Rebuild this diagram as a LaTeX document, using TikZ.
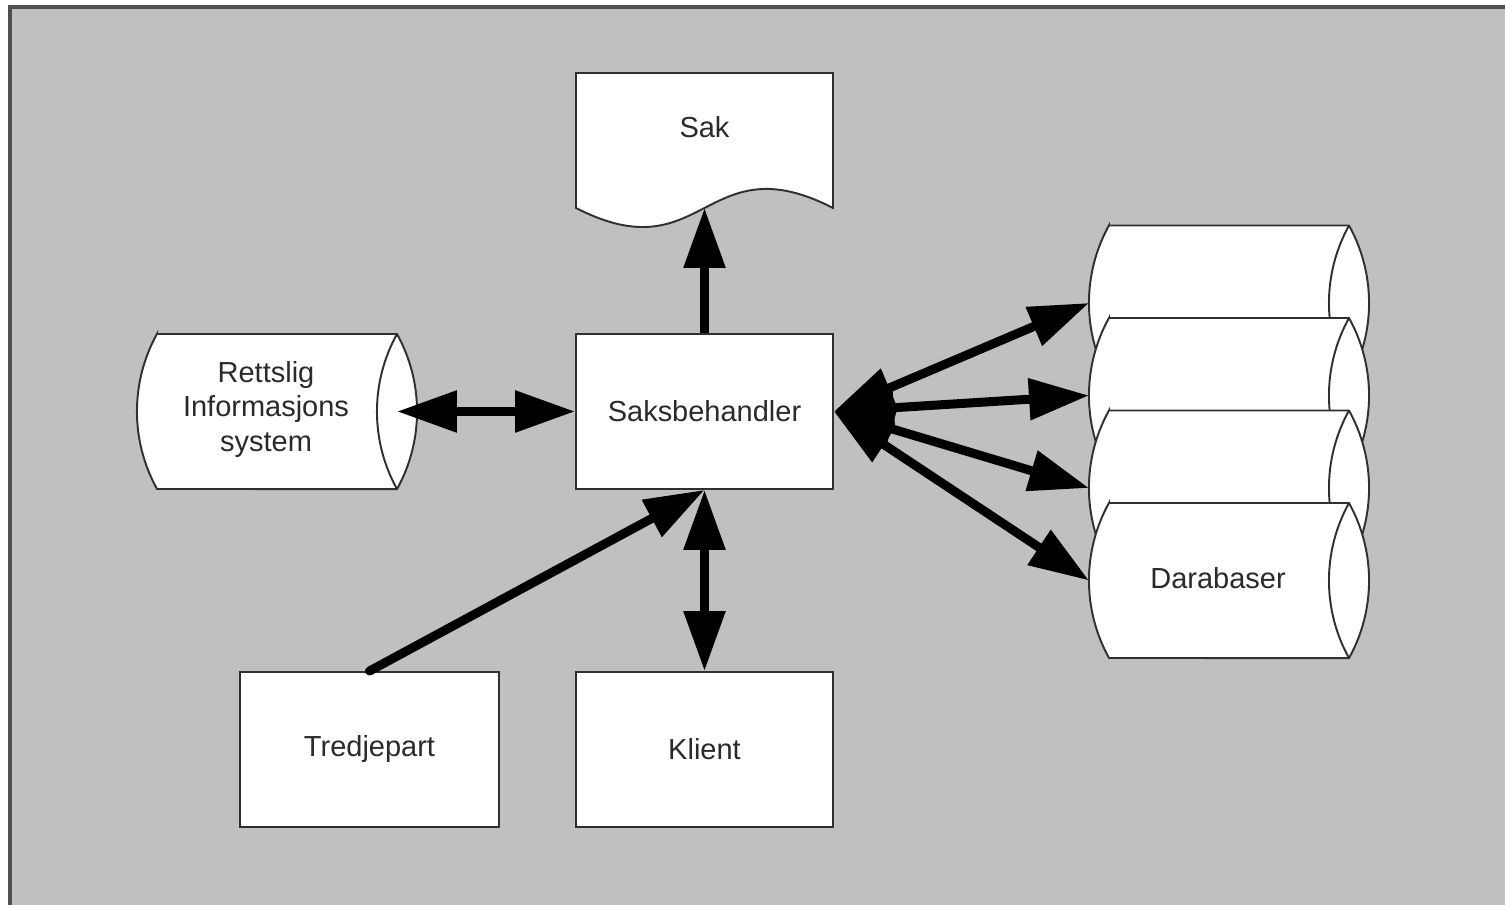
\documentclass[tikz,border=0pt]{standalone}
\usepackage{fontspec}
\setmainfont{Liberation Sans}
\usepackage{tikz}
\usetikzlibrary{arrows.meta}

\definecolor{bakgrunn}{HTML}{C0C0C0}
\definecolor{ramme}{HTML}{505050}
\definecolor{kant}{HTML}{303030}
\definecolor{skrift}{HTML}{2A2A2A}

\tikzset{
  boks/.style={draw=kant, line width=1.1pt, fill=white},
  tekst/.style={text=skrift, font=\fontsize{16.5}{19.9}\selectfont, align=center},
  pil/.style={line width=0.18cm, -{Triangle[length=1.2cm,width=0.8cm]}},
  dobbelpil/.style={line width=0.18cm, {Triangle[length=1.2cm,width=0.8cm]}-{Triangle[length=1.2cm,width=0.8cm]}}
}

% sylinder: navn, venstre x, midt y, tekst
\newcommand{\sylinder}[4]{%
  \filldraw[boks] (#2,#3+77.5) -- (#2+240,#3+77.5)
    arc[start angle=29, end angle=-29, radius=3.2cm]
    -- (#2,#3-77.5)
    arc[start angle=209, end angle=151, radius=3.2cm] -- cycle;
  \draw[boks, fill=none] (#2+240,#3+77.5) arc[start angle=151, end angle=209, radius=3.2cm];
  \node[tekst] (#1) at (#2+109,#3+2) {#4};
  \coordinate (#1-v) at (#2-20,#3);
  \coordinate (#1-h) at (#2+240,#3);
}

\begin{document}
\begin{tikzpicture}[x=0.02cm, y=0.02cm]
\useasboundingbox (0,0) rectangle (1505,905);
\clip (0,0) rectangle (1505,905);
\filldraw[fill=bakgrunn, draw=ramme, line width=0.08cm] (10,-20) rectangle (1530,898);

% sak-dokument
\filldraw[boks] (576,832) -- (833,832) -- (833,697) .. controls (704.5,763) and (704.5,631) .. (576,697) -- cycle;
\node[tekst] (sak) at (704.5,778) {Sak};
\coordinate (sakbunn) at (704.5,697);

\node[boks, tekst, minimum width=5.14cm, minimum height=3.1cm] (saksbehandler) at (704.5,493.5) {Saksbehandler};
\node[boks, tekst, minimum width=5.18cm, minimum height=3.1cm] (tredjepart) at (369.5,155.5) {Tredjepart};
\node[boks, tekst, minimum width=5.14cm, minimum height=3.1cm] (klient) at (704.5,155.5) {Klient};

\sylinder{rettslig}{157}{493.5}{Rettslig\\Informasjons\\system}
\sylinder{db1}{1109}{602}{}
\sylinder{db2}{1109}{509.5}{}
\sylinder{db3}{1109}{417}{}
\sylinder{db4}{1109}{324.5}{Darabaser}

\draw[pil] (saksbehandler.north) -- (sakbunn);
\draw[dobbelpil] (rettslig-h) -- (saksbehandler.west);
\draw[dobbelpil] (saksbehandler.east) -- (db1-v);
\draw[dobbelpil] (saksbehandler.east) -- (db2-v);
\draw[dobbelpil] (saksbehandler.east) -- (db3-v);
\draw[dobbelpil] (saksbehandler.east) -- (db4-v);
\draw[dobbelpil] (saksbehandler.south) -- (klient.north);
\draw[pil, line cap=round] (tredjepart.north) -- (saksbehandler.south);
\end{tikzpicture}
\end{document}
